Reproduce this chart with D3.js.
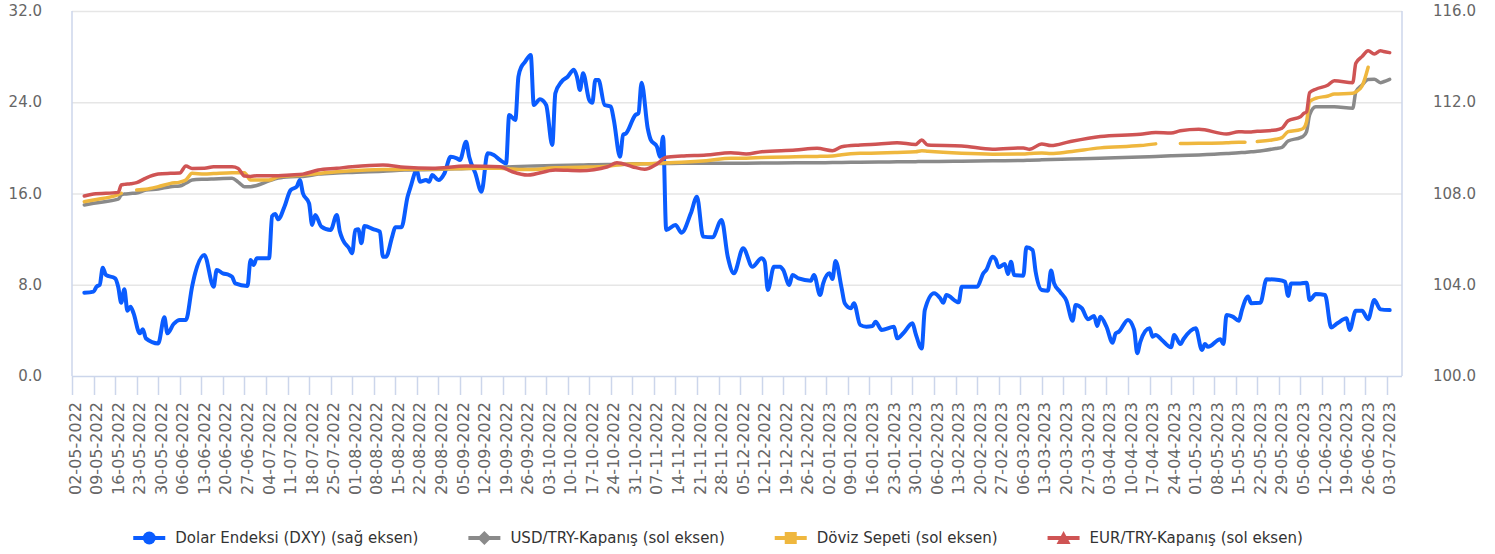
<!DOCTYPE html>
<html>
<head>
<meta charset="utf-8">
<script src="https://cdn.jsdelivr.net/npm/d3@7"></script>
<style>
	body { margin: 0; background: #fff; }
	svg { display: block; font-family: "DejaVu Sans", sans-serif; }
</style>
</head>
<body>
<svg id="chart" width="1495" height="554"></svg>
<script>
// Dolar Endeksi (DXY), right axis
const dxyDates = [
	"2022-05-06","2022-05-09","2022-05-10","2022-05-11","2022-05-12","2022-05-13","2022-05-16","2022-05-17","2022-05-18","2022-05-19",
	"2022-05-20","2022-05-21","2022-05-22","2022-05-24","2022-05-25","2022-05-26","2022-05-30","2022-06-01","2022-06-02","2022-06-04",
	"2022-06-06","2022-06-08","2022-06-10","2022-06-11","2022-06-14","2022-06-17","2022-06-18","2022-06-20","2022-06-22","2022-06-23",
	"2022-06-24","2022-06-28","2022-06-29","2022-06-30","2022-07-01","2022-07-05","2022-07-06","2022-07-07","2022-07-08","2022-07-10",
	"2022-07-12","2022-07-14","2022-07-15","2022-07-16","2022-07-18","2022-07-19","2022-07-20","2022-07-22","2022-07-25","2022-07-27",
	"2022-07-28","2022-07-29","2022-07-31","2022-08-01","2022-08-02","2022-08-03","2022-08-04","2022-08-05","2022-08-08","2022-08-10",
	"2022-08-11","2022-08-12","2022-08-14","2022-08-15","2022-08-17","2022-08-19","2022-08-20","2022-08-22","2022-08-23","2022-08-25",
	"2022-08-26","2022-08-27","2022-08-29","2022-08-31","2022-09-02","2022-09-04","2022-09-05","2022-09-07","2022-09-08","2022-09-10",
	"2022-09-12","2022-09-14","2022-09-16","2022-09-18","2022-09-20","2022-09-21","2022-09-23","2022-09-24","2022-09-25","2022-09-26",
	"2022-09-28","2022-09-29","2022-10-01","2022-10-03","2022-10-05","2022-10-06","2022-10-08","2022-10-10","2022-10-12","2022-10-13",
	"2022-10-14","2022-10-15","2022-10-17","2022-10-18","2022-10-19","2022-10-20","2022-10-22","2022-10-24","2022-10-25","2022-10-27",
	"2022-10-28","2022-10-29","2022-11-01","2022-11-02","2022-11-03","2022-11-05","2022-11-06","2022-11-08","2022-11-09","2022-11-10",
	"2022-11-11","2022-11-14","2022-11-16","2022-11-19","2022-11-21","2022-11-23","2022-11-26","2022-11-29","2022-12-01","2022-12-03",
	"2022-12-06","2022-12-09","2022-12-12","2022-12-13","2022-12-14","2022-12-16","2022-12-18","2022-12-19","2022-12-21","2022-12-22",
	"2022-12-24","2022-12-28","2022-12-29","2022-12-31","2023-01-01","2023-01-03","2023-01-04","2023-01-05","2023-01-07","2023-01-08",
	"2023-01-10","2023-01-11","2023-01-13","2023-01-15","2023-01-17","2023-01-18","2023-01-20","2023-01-24","2023-01-25","2023-01-27",
	"2023-01-30","2023-01-31","2023-02-02","2023-02-03","2023-02-06","2023-02-08","2023-02-09","2023-02-10","2023-02-14","2023-02-15",
	"2023-02-20","2023-02-22","2023-02-23","2023-02-25","2023-02-26","2023-02-27","2023-03-01","2023-03-02","2023-03-03","2023-03-04",
	"2023-03-07","2023-03-08","2023-03-10","2023-03-11","2023-03-13","2023-03-15","2023-03-16","2023-03-17","2023-03-19","2023-03-21",
	"2023-03-23","2023-03-24","2023-03-26","2023-03-28","2023-03-30","2023-03-31","2023-04-01","2023-04-03","2023-04-05","2023-04-06",
	"2023-04-07","2023-04-10","2023-04-12","2023-04-13","2023-04-14","2023-04-17","2023-04-18","2023-04-19","2023-04-21","2023-04-24",
	"2023-04-25","2023-04-27","2023-04-28","2023-05-02","2023-05-04","2023-05-05","2023-05-06","2023-05-10","2023-05-11","2023-05-12",
	"2023-05-14","2023-05-16","2023-05-17","2023-05-19","2023-05-20","2023-05-23","2023-05-25","2023-05-29","2023-05-31","2023-06-01",
	"2023-06-02","2023-06-05","2023-06-07","2023-06-08","2023-06-10","2023-06-13","2023-06-15","2023-06-17","2023-06-20","2023-06-21",
	"2023-06-23","2023-06-25","2023-06-27","2023-06-29","2023-07-01","2023-07-04"
];
const dxyValues = [
	103.65,103.70,103.92,103.99,104.75,104.43,104.28,103.91,103.21,103.80,
	102.86,103.04,102.75,101.87,102.05,101.65,101.43,102.57,101.87,102.28,
	102.46,102.46,103.91,104.50,105.30,103.91,104.65,104.50,104.43,104.35,
	104.06,103.95,105.09,104.87,105.16,105.16,107.01,107.10,106.87,107.42,
	108.15,108.30,108.59,108.01,107.57,106.62,107.06,106.55,106.40,107.06,
	106.33,105.96,105.60,105.38,106.40,106.43,105.82,106.58,106.43,106.33,
	105.23,105.23,106.11,106.52,106.52,107.86,108.30,109.03,108.52,108.59,
	108.52,108.81,108.59,108.89,109.61,109.54,109.47,110.27,109.61,108.89,
	108.08,109.76,109.69,109.47,109.32,111.44,111.22,113.12,113.56,113.74,
	114.07,111.88,112.13,111.88,110.13,112.39,112.90,113.12,113.42,113.12,
	112.54,113.27,112.10,111.98,112.98,112.98,111.88,111.81,111.22,109.61,
	110.57,110.64,111.44,111.52,112.86,110.86,110.35,110.05,109.61,110.49,
	106.40,106.62,106.28,107.13,107.86,106.11,106.08,106.84,105.23,104.50,
	105.60,104.79,105.16,105.01,103.77,104.79,104.79,104.65,103.99,104.43,
	104.28,104.18,104.43,103.55,104.06,104.50,104.25,105.04,103.84,103.19,
	102.97,103.19,102.24,102.16,102.19,102.38,102.02,102.16,101.65,101.87,
	102.31,101.87,101.21,102.89,103.63,103.41,103.21,103.55,103.23,103.91,
	103.91,104.50,104.65,105.23,105.12,104.77,104.91,104.47,105.01,104.43,
	104.40,105.64,105.52,104.57,103.77,103.74,104.62,104.06,103.68,103.30,
	102.42,103.11,102.97,102.49,102.63,102.19,102.60,102.16,101.46,101.87,
	101.94,102.46,102.02,101.00,101.50,102.09,101.72,101.80,101.58,101.26,
	101.80,101.40,101.61,102.09,101.14,101.40,101.28,101.61,101.40,102.67,
	102.60,102.42,102.89,103.48,103.19,103.21,104.24,104.21,104.13,103.51,
	104.06,104.06,104.09,103.33,103.59,103.55,102.13,102.31,102.53,102.02,
	102.86,102.86,102.49,103.33,102.92,102.89
];

// USD/TRY, basket and EUR/TRY, left axis
const tryDates = [
	"2022-05-06","2022-05-09","2022-05-17","2022-05-18","2022-05-19","2022-05-21","2022-05-23","2022-05-26","2022-05-30","2022-06-03",
	"2022-06-06","2022-06-08","2022-06-10","2022-06-14","2022-06-17","2022-06-23","2022-06-25","2022-06-27","2022-06-29","2022-07-01",
	"2022-07-05","2022-07-08","2022-07-12","2022-07-16","2022-07-21","2022-07-27","2022-08-01","2022-08-11","2022-08-18","2022-08-27",
	"2022-09-07","2022-09-18","2022-09-22","2022-09-27","2022-10-06","2022-10-14","2022-10-23","2022-10-26","2022-10-31","2022-11-04",
	"2022-11-08","2022-11-11","2022-11-16","2022-11-24","2022-12-02","2022-12-07","2022-12-12","2022-12-23","2022-12-30","2023-01-04",
	"2023-01-07","2023-01-13","2023-01-19","2023-01-25","2023-01-31","2023-02-02","2023-02-04","2023-02-15","2023-02-25","2023-03-07",
	"2023-03-09","2023-03-13","2023-03-16","2023-03-22","2023-04-01","2023-04-14","2023-04-19","2023-04-24","2023-04-27","2023-05-03",
	"2023-05-12","2023-05-16","2023-05-18","2023-05-20","2023-05-22","2023-05-28","2023-05-30","2023-06-01","2023-06-05","2023-06-06",
	"2023-06-07","2023-06-08","2023-06-10","2023-06-14","2023-06-16","2023-06-22","2023-06-23","2023-06-25","2023-06-27","2023-06-29",
	"2023-07-01","2023-07-02","2023-07-04"
];
const usdTry = [
	14.99,15.15,15.50,15.87,15.95,16.00,16.05,16.30,16.40,16.60,
	16.66,16.90,17.18,17.25,17.28,17.33,17.00,16.60,16.60,16.70,
	17.10,17.35,17.47,17.50,17.70,17.80,17.85,17.95,18.06,18.10,
	18.20,18.30,18.35,18.40,18.45,18.50,18.55,18.55,18.60,18.60,
	18.62,18.63,18.65,18.65,18.65,18.66,18.67,18.69,18.70,18.71,
	18.72,18.74,18.76,18.78,18.79,18.80,18.80,18.83,18.87,18.90,
	18.92,18.95,18.97,19.02,19.10,19.20,19.25,19.30,19.33,19.38,
	19.50,19.58,19.60,19.65,19.70,19.95,20.05,20.60,20.90,21.04,
	21.42,22.90,23.60,23.61,23.61,23.47,24.90,25.50,26.00,26.01,
	25.72,25.80,26.01
];
const basket = [
	15.28,15.43,15.90,16.02,null,null,16.31,16.37,16.60,16.89,
	17.00,17.18,17.77,17.71,17.75,17.83,17.83,17.83,17.18,17.18,
	17.18,17.47,17.55,17.62,17.75,17.91,18.00,18.10,18.12,18.15,
	18.20,18.21,18.15,18.10,18.25,18.30,18.40,18.50,18.59,18.60,
	18.65,18.70,18.75,18.88,19.09,19.10,19.15,19.23,19.25,19.29,
	19.40,19.52,19.55,19.60,19.65,19.75,19.70,19.52,19.45,19.46,
	19.50,19.55,19.50,19.66,20.00,20.20,20.35,null,20.38,20.40,
	20.45,20.50,20.50,null,20.55,20.75,20.90,21.42,21.60,21.72,
	22.30,24.05,24.35,24.55,24.72,24.79,24.90,25.40,27.07,null,
	null,null,null
];
const eurTry = [
	15.78,15.95,16.10,16.75,16.80,16.85,16.95,17.35,17.70,17.77,
	17.80,18.41,18.20,18.21,18.35,18.35,18.20,17.53,17.50,17.55,
	17.55,17.55,17.62,17.70,18.06,18.21,18.35,18.50,18.30,18.21,
	18.41,18.35,17.91,17.62,18.06,18.00,18.35,18.70,18.35,18.12,
	18.59,19.17,19.29,19.38,19.58,19.46,19.66,19.81,19.96,19.75,
	20.10,20.25,20.34,20.45,20.30,20.69,20.25,20.17,19.88,20.00,
	19.88,20.34,20.20,20.54,21.00,21.20,21.35,21.30,21.50,21.63,
	21.22,21.42,21.40,21.40,21.45,21.57,21.72,22.38,22.73,23.00,
	23.17,24.84,25.14,25.51,25.89,25.72,27.42,28.00,28.52,28.23,
	28.52,28.45,28.35
];

const leftTicks = [0, 8, 16, 24, 32];
const rightTicks = [100, 104, 108, 112, 116];
const seriesNames = [
	"Dolar Endeksi (DXY) (sağ eksen)",
	"USD/TRY-Kapanış (sol eksen)",
	"Döviz Sepeti (sol eksen)",
	"EUR/TRY-Kapanış (sol eksen)",
];
const colors = ["#0a5cff", "#8a8a8a", "#efb73e", "#cf5454"];

const parse = d3.timeParse("%Y-%m-%d");
const fmt = d3.timeFormat("%d-%m-%Y");

const svg = d3.select("#chart");
const plot = { left: 72, right: 1402, top: 11, bottom: 376 };

const x = d3
	.scaleTime()
	.domain([parse("2022-05-02"), parse("2023-07-08")])
	.range([plot.left, plot.right]);
const yLeft = d3.scaleLinear().domain([0, 32]).range([plot.bottom, plot.top]);
const yRight = d3.scaleLinear().domain([100, 116]).range([plot.bottom, plot.top]);

// grid
svg
	.append("g")
	.selectAll("line")
	.data(leftTicks.slice(1))
	.join("line")
	.attr("x1", plot.left)
	.attr("x2", plot.right)
	.attr("y1", (d) => yLeft(d) + 0.5)
	.attr("y2", (d) => yLeft(d) + 0.5)
	.attr("stroke", "#e6e6e6")
	.attr("stroke-width", 1.5);

// frame lines
const axisColor = "#ccd6eb";
svg
	.append("line")
	.attr("x1", plot.left).attr("x2", plot.left)
	.attr("y1", plot.top).attr("y2", plot.bottom)
	.attr("stroke", axisColor).attr("stroke-width", 1.5);
svg
	.append("line")
	.attr("x1", plot.right).attr("x2", plot.right)
	.attr("y1", plot.top).attr("y2", plot.bottom)
	.attr("stroke", axisColor).attr("stroke-width", 1.5);
svg
	.append("line")
	.attr("x1", plot.left).attr("x2", plot.right)
	.attr("y1", plot.bottom + 0.5).attr("y2", plot.bottom + 0.5)
	.attr("stroke", axisColor).attr("stroke-width", 1.5);

// y labels
svg
	.append("g")
	.attr("font-size", 15)
	.attr("fill", "#666")
	.attr("text-anchor", "end")
	.selectAll("text")
	.data(leftTicks)
	.join("text")
	.attr("x", 42)
	.attr("y", (d) => yLeft(d) + 5)
	.text((d) => d.toFixed(1));

svg
	.append("g")
	.attr("font-size", 15)
	.attr("fill", "#666")
	.attr("text-anchor", "start")
	.selectAll("text")
	.data(rightTicks)
	.join("text")
	.attr("x", 1433)
	.attr("y", (d) => yRight(d) + 5)
	.text((d) => d.toFixed(1));

// x ticks, every monday
const weeks = d3.timeMonday.range(parse("2022-05-02"), parse("2023-07-04"));
const xt = svg.append("g");
xt.selectAll("line")
	.data(weeks)
	.join("line")
	.attr("x1", (d) => Math.round(x(d)) + 0.5)
	.attr("x2", (d) => Math.round(x(d)) + 0.5)
	.attr("y1", plot.bottom)
	.attr("y2", plot.bottom + 19)
	.attr("stroke", axisColor)
	.attr("stroke-width", 1.5);
xt.selectAll("text")
	.data(weeks)
	.join("text")
	.attr("transform", (d) => `translate(${x(d) + 3},402) rotate(-90)`)
	.attr("text-anchor", "end")
	.attr("dy", "0.35em")
	.attr("font-size", 16)
	.attr("fill", "#666")
	.text((d) => fmt(d));

// lines
const dxy = dxyDates.map((d, i) => ({ date: parse(d), v: dxyValues[i] }));
const mkLine = (vals) => tryDates.map((d, i) => ({ date: parse(d), v: vals[i] }));

const lineR = d3
	.line()
	.x((d) => x(d.date))
	.y((d) => yRight(d.v))
	.curve(d3.curveMonotoneX);
const lineL = d3
	.line()
	.defined((d) => d.v !== null)
	.x((d) => x(d.date))
	.y((d) => yLeft(d.v))
	.curve(d3.curveMonotoneX);

const lines = svg.append("g").attr("fill", "none").attr("stroke-linejoin", "round").attr("stroke-linecap", "round");
lines.append("path").attr("d", lineR(dxy)).attr("stroke", colors[0]).attr("stroke-width", 4);
lines.append("path").attr("d", lineL(mkLine(usdTry))).attr("stroke", colors[1]).attr("stroke-width", 3.5);
lines.append("path").attr("d", lineL(mkLine(basket))).attr("stroke", colors[2]).attr("stroke-width", 3.5);
lines.append("path").attr("d", lineL(mkLine(eurTry))).attr("stroke", colors[3]).attr("stroke-width", 3.5);

// legend
const legend = svg.append("g").attr("font-size", 15).attr("fill", "#333");
const items = legend
	.selectAll("g")
	.data(seriesNames)
	.join("g");
items
	.append("text")
	.attr("x", 42)
	.attr("y", 543)
	.text((d) => d);
const widths = [];
items.each(function () {
	widths.push(d3.select(this).select("text").node().getComputedTextLength());
});
const gap = 50;
const total = d3.sum(widths) + widths.length * 42 + (widths.length - 1) * gap;
let cursor = 718 - total / 2;
items.each(function (d, i) {
	const g = d3.select(this).attr("transform", `translate(${cursor},0)`);
	g.append("line")
		.attr("x1", 0).attr("x2", 32)
		.attr("y1", 538).attr("y2", 538)
		.attr("stroke", colors[i]).attr("stroke-width", 4);
	const cx = 16, cy = 538;
	if (i === 0) {
		g.append("circle").attr("cx", cx).attr("cy", cy).attr("r", 6.5).attr("fill", colors[i]);
	} else if (i === 1) {
		g.append("path").attr("d", `M${cx},${cy - 7}L${cx + 7},${cy}L${cx},${cy + 7}L${cx - 7},${cy}Z`).attr("fill", colors[i]);
	} else if (i === 2) {
		g.append("rect").attr("x", cx - 6).attr("y", cy - 6).attr("width", 12).attr("height", 12).attr("fill", colors[i]);
	} else {
		g.append("path").attr("d", `M${cx},${cy - 7}L${cx + 7},${cy + 6}L${cx - 7},${cy + 6}Z`).attr("fill", colors[i]);
	}
	cursor += widths[i] + 42 + gap;
});
</script>
</body>
</html>
